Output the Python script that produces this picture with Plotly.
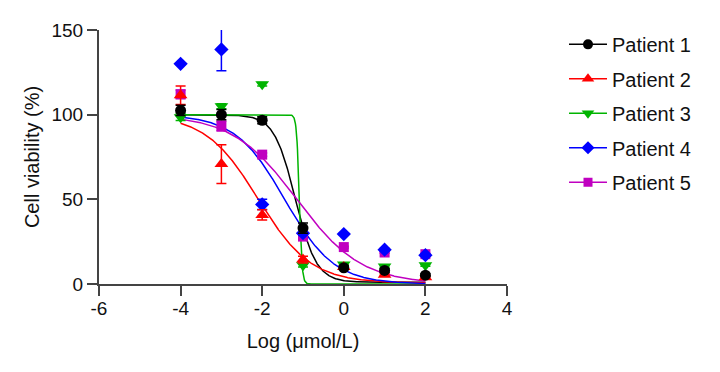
import numpy as np
import plotly.graph_objects as go

# Data
log_conc = [-4, -3, -2, -1, 0, 1, 2]
patients = ["Patient 1", "Patient 2", "Patient 3", "Patient 4", "Patient 5"]
x_ticks = [-6, -4, -2, 0, 2, 4]
x_tick_labels = ["-6", "-4", "-2", "0", "2", "4"]
y_ticks = [0, 50, 100, 150]

p1_mean = [102.5, 100.0, 96.7, 33.0, 9.6, 8.0, 5.2]
p1_err = [3.0, 3.0, 2.0, 3.0, 1.0, 1.0, 0.8]
p2_mean = [111.5, 70.8, 40.8, 14.4, 10.0, 5.5, 4.0]
p2_err = [5.5, 11.5, 3.0, 2.0, 0.5, 0.5, 0.5]
p3_mean = [98.5, 105.0, 118.0, 11.0, 11.5, 10.3, 11.0]
p3_err = [2.0, 1.5, 1.0, 1.0, 0.5, 0.5, 0.5]
p4_mean = [130.0, 138.5, 47.0, 30.0, 29.5, 20.3, 17.0]
p4_err = [0.5, 12.5, 3.0, 1.0, 0.5, 0.5, 0.5]
p5_mean = [112.0, 93.3, 76.4, 28.0, 21.8, 18.6, 17.6]
p5_err = [2.5, 3.0, 1.0, 2.0, 0.5, 0.5, 0.5]

# Four-parameter logistic fit parameters per patient: top, bottom, logIC50, hill slope
fit_top = [100.0, 100.0, 100.0, 100.0, 100.0]
fit_bottom = [1.0, 0.5, 0.0, 0.0, 0.0]
fit_logic50 = [-1.19, -2.10, -1.09, -1.45, -1.15]
fit_hill = [1.68, 0.67, 13.0, 0.72, 0.55]

colors = ["#000000", "#ff0000", "#00b400", "#0000ff", "#c000c0"]
symbols = ["circle", "triangle-up", "triangle-down", "diamond", "square"]
sizes = [11, 12, 12, 11, 10]

means = [p1_mean, p2_mean, p3_mean, p4_mean, p5_mean]
errs = [p1_err, p2_err, p3_err, p4_err, p5_err]

FONT = "Liberation Sans, Arial, sans-serif"

fig = go.Figure()

xs = np.linspace(min(log_conc), max(log_conc), 600)
# fitted curves
for i in range(len(patients)):
    yfit = fit_bottom[i] + (fit_top[i] - fit_bottom[i]) / (1 + 10 ** ((xs - fit_logic50[i]) * fit_hill[i]))
    fig.add_trace(go.Scatter(x=xs, y=yfit, mode="lines",
                             line=dict(color=colors[i], width=1.5),
                             showlegend=False, hoverinfo="skip"))

# data points (patient 1 drawn last so it sits on top)
for i in reversed(range(len(patients))):
    fig.add_trace(go.Scatter(x=log_conc, y=means[i], mode="markers",
                             marker=dict(color=colors[i], symbol=symbols[i], size=sizes[i],
                                         line=dict(width=0)),
                             error_y=dict(type="data", array=errs[i], visible=True,
                                          color=colors[i], thickness=1.5, width=5),
                             showlegend=False))

# legend entries
for i in range(len(patients)):
    fig.add_trace(go.Scatter(x=[None], y=[None], mode="lines+markers", name=patients[i],
                             legendgroup=patients[i],
                             line=dict(color=colors[i], width=1.5),
                             marker=dict(color=colors[i], symbol=symbols[i], size=sizes[i] - 1,
                                         line=dict(width=0))))

axis_common = dict(showline=True, linecolor="#444444", linewidth=2,
                   ticks="outside", ticklen=10, tickwidth=2, tickcolor="#444444",
                   showgrid=False, zeroline=False,
                   tickfont=dict(family=FONT, size=19, color="#111111"))

fig.update_layout(
    width=720, height=372,
    margin=dict(l=91, r=221, t=15, b=96),
    paper_bgcolor="white", plot_bgcolor="white",
    font=dict(family=FONT, size=19, color="#111111"),
    xaxis=dict(range=[-6, 4], tickvals=x_ticks, ticktext=x_tick_labels,
               ticklabelstandoff=-4,
               title=dict(text="Log (\u03bcmol/L)", font=dict(family=FONT, size=20), standoff=16),
               **axis_common),
    yaxis=dict(range=[0, 150], tickvals=y_ticks,
               title=dict(text="Cell viability (%)", font=dict(family=FONT, size=20), standoff=6),
               **axis_common),
    legend=dict(x=1.1397, y=1.0203, xanchor="left", yanchor="top", itemwidth=38,
                font=dict(family=FONT, size=20, color="#111111"),
                tracegroupgap=5.5, bgcolor="rgba(0,0,0,0)"),
    showlegend=True,
)

fig.write_html("out.html")
